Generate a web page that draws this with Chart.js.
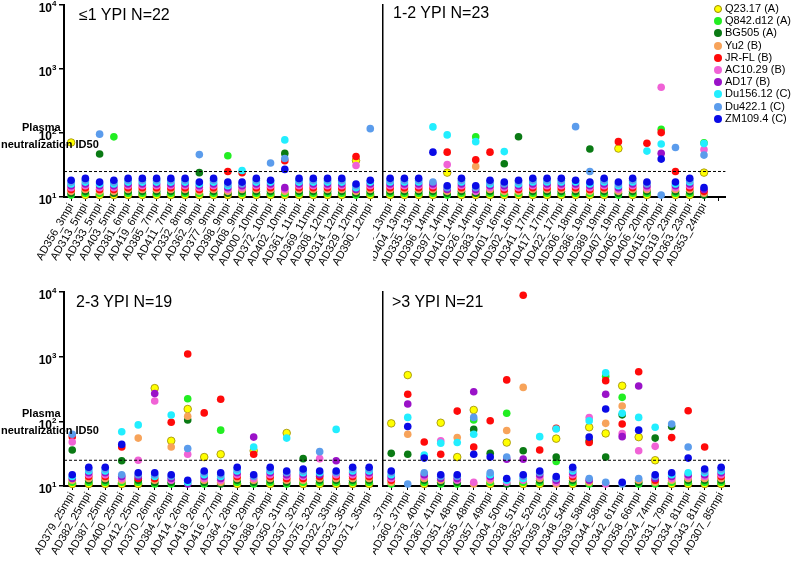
<!DOCTYPE html>
<html lang="en">
<head>
<meta charset="UTF-8">
<title>Plasma neutralization ID50 by years post infection</title>
<script src="https://cdn.jsdelivr.net/npm/chart.js"></script>
<style>
    body { margin: 0; background: #fff; font-family: Arial, 'Liberation Sans', sans-serif; }
    #wrap { position: relative; width: 800px; height: 563px; overflow: hidden; }
    canvas { position: absolute; }
    .ptitle { position: absolute; font-size: 16px; line-height: 18px; color: #000; white-space: nowrap; }
    .ylab { position: absolute; font-weight: bold; font-size: 11px; line-height: 14px; color: #000; white-space: nowrap; }
    #legend { position: absolute; left: 714px; top: 2px; font-size: 11px; color: #000; }
    .item { height: 12.2px; line-height: 12px; white-space: nowrap; }
    .dot { display: inline-block; width: 8px; height: 8px; border-radius: 50%; margin-right: 3px; vertical-align: -1px; box-sizing: border-box; }
</style>
</head>
<body>
<div id="wrap">
    <canvas id="c1"></canvas>
    <canvas id="c2"></canvas>
    <canvas id="c3"></canvas>
    <canvas id="c4"></canvas>
    <div class="ptitle" style="left:79px; top:6px;">≤1 YPI N=22</div>
    <div class="ptitle" style="left:393px; top:4px;">1-2 YPI N=23</div>
    <div class="ptitle" style="left:76px; top:293px;">2-3 YPI N=19</div>
    <div class="ptitle" style="left:392px; top:293px;">&gt;3 YPI N=21</div>
    <div class="ylab" style="left:22px; top:120px;">Plasma</div>
    <div class="ylab" style="left:1px; top:137px;">neutralization ID50</div>
    <div class="ylab" style="left:22px; top:406px;">Plasma</div>
    <div class="ylab" style="left:1px; top:423px;">neutralization ID50</div>
    <div id="legend"></div>
</div>
<script>
    // sample labels per panel
    const labelsLE1 = ['AD356_3mpi','AD313_5mpi','AD333_5mpi','AD403_5mpi','AD381_6mpi','AD419_6mpi','AD385_7mpi','AD411_7mpi','AD332_8mpi','AD362_9mpi','AD377_9mpi','AD398_9mpi','AD408_9mpi','AD000_10mpi','AD372_10mpi','AD402_10mpi','AD361_11mpi','AD369_11mpi','AD308_12mpi','AD314_12mpi','AD329_12mpi','AD390_12mpi'];
    const labels1to2 = ['AD310_13mpi','AD404_13mpi','AD335_13mpi','AD396_14mpi','AD397_14mpi','AD410_14mpi','AD326_14mpi','AD383_16mpi','AD401_16mpi','AD302_16mpi','AD341_17mpi','AD417_17mpi','AD422_17mpi','AD306_18mpi','AD386_19mpi','AD389_19mpi','AD407_19mpi','AD405_20mpi','AD406_20mpi','AD415_20mpi','AD319_23mpi','AD363_23mpi','AD353_24mpi'];
    const labels2to3 = ['AD379_25mpi','AD382_25mpi','AD387_25mpi','AD400_25mpi','AD412_25mpi','AD370_26mpi','AD384_26mpi','AD414_26mpi','AD418_26mpi','AD416_27mpi','AD364_28mpi','AD316_29mpi','AD388_29mpi','AD350_31mpi','AD337_32mpi','AD375_32mpi','AD322_33mpi','AD323_35mpi','AD371_35mpi'];
    const labelsGT3 = ['AD309_37mpi','AD360_37mpi','AD378_40mpi','AD367_41mpi','AD351_48mpi','AD355_48mpi','AD357_49mpi','AD304_50mpi','AD328_51mpi','AD352_52mpi','AD359_52mpi','AD348_54mpi','AD339_58mpi','AD344_58mpi','AD342_61mpi','AD358_66mpi','AD324_74mpi','AD331_79mpi','AD334_81mpi','AD343_81mpi','AD307_85mpi'];

    const strains = ['Q23.17 (A)','Q842.d12 (A)','BG505 (A)','Yu2 (B)','JR-FL (B)','AC10.29 (B)','AD17 (B)','Du156.12 (C)','Du422.1 (C)','ZM109.4 (C)'];
    const colors = ['#ffff00','#22ee22','#0a7a14','#f7a35a','#ff0a0a','#f062d6','#9a12c8','#22eeff','#5b9cec','#0a0ae6'];

    // ID50 per strain, samples in panel order (≤1, 1-2, 2-3, >3 YPI)
    // 0 = below the 1:25 cutoff, null = not tested
    const q23 = [
        71,0,0,0,0,0,0,0,0,0,0,0,0,0,0,0,0,0,0,0,37,0,
        0,0,0,0,24,0,0,0,0,0,0,0,0,0,0,0,57,0,0,null,0,0,24,
        0,0,0,0,0,326,50,155,28,31,0,35,0,66,0,0,0,0,0,
        93,519,0,95,28,150,0,47,0,0,54,0,81,65,355,57,25,0,0,0,0];
    const q842 = [
        0,0,0,87,0,0,0,0,0,0,0,44,0,0,0,0,0,0,0,0,0,0,
        0,0,0,0,0,0,87,0,0,0,0,0,0,0,0,0,0,0,0,114,0,0,70,
        0,0,0,0,0,0,0,224,0,73,0,0,0,0,0,0,0,0,0,
        0,null,0,0,0,105,0,133,0,0,24,0,0,500,235,0,0,0,0,0,0];
    const bg505 = [
        0,0,47,0,0,0,0,0,0,24,0,0,0,0,0,48,0,0,0,0,0,0,
        0,0,0,0,0,0,0,0,33,87,0,0,0,0,56,0,0,0,0,null,0,0,0,
        36,0,0,24.6,0,0,0,105,0,0,0,0,0,0,26.5,0,0,0,0,
        32,31,0,0,0,75,32,0,35,0,28,0,50,28,126,0,55,83,0,0,0];
    const yu2 = [
        0,0,0,0,0,0,0,0,0,0,0,0,0,0,0,0,0,0,0,0,0,0,
        0,0,0,0,0,0,30,0,0,0,0,0,0,0,0,0,0,0,0,null,0,0,0,
        0,0,0,0,55,0,40,120,0,0,0,0,0,0,0,0,0,0,0,
        0,63,0,0,56,0,0,72,335,0,0,0,0,93,173,0,0,0,0,0,0];
    const jrfl = [
        0,0,0,0,0,0,0,0,0,0,0,25,24,0,0,37,0,0,0,0,43,0,
        0,0,0,0,50,0,38,50,0,0,0,0,0,0,0,0,73,0,69,101,25,0,0,
        58,0,0,40,0,0,97,1100,135,219,0,31,0,0,0,0,0,0,0,
        0,262,48,31,144,40,102,437,8900,36,78,0,47,426,91,586,0,56,146,40,0];
    const ac10 = [
        0,0,0,0,0,0,0,0,0,0,0,0,0,0,0,0,0,0,0,0,31,0,
        0,0,0,0,32,0,0,0,0,0,0,0,0,0,0,0,0,0,0,515,0,0,55,
        48,0,0,0,25,206,0,31,0,0,0,0,0,0,0,26.5,0,0,0,
        0,null,0,50,0,0,0,0,0,0,0,0,114,0,65,35,41,0,0,0,0];
    const ad17 = [
        0,0,0,0,0,0,0,0,0,0,0,0,0,0,0,0,0,0,0,0,0,0,
        0,0,0,0,0,0,0,0,0,0,0,0,0,0,0,0,0,0,0,48,0,0,0,
        0,0,0,0,0,270,0,0,0,0,0,57,0,0,0,0,24.6,0,0,
        0,185,0,0,0,287,0,26,26,0,0,0,0,263,58,351,0,0,0,0,0];
    const du156 = [
        0,0,0,0,0,0,0,0,0,0,0,0,26,0,0,78,0,0,0,0,0,0,
        0,0,0,124,93,0,73,0,51,0,0,0,0,0,0,0,0,0,52,67,0,0,68,
        0,0,0,69,88,0,125,0,0,0,0,40,0,55,0,0,75,0,0,
        0,115,30,46,47,63,0,0,0,58,76,0,102,563,133,115,81,0,0,0,0];
    const du422 = [
        0,0,96,0,0,0,0,0,0,46,0,0,0,0,34,40,0,0,0,0,0,117,
        0,0,0,0,0,0,0,0,0,0,0,0,0,125,25,0,0,0,0,0,59,0,45,
        63,0,0,0,0,0,0,38,0,0,0,0,0,0,0,34,0,0,0,
        0,0,0,0,0,115,0,28,0,0,0,0,0,0,0,0,0,91,40,0,0];
    const zm109 = [
        0,0,0,0,0,0,0,0,0,0,0,0,0,0,0,27,0,0,0,0,0,0,
        0,0,0,50,0,0,0,0,0,0,0,0,0,0,0,0,0,0,0,39,0,0,0,
        0,0,0,44,0,0,0,0,0,0,0,0,0,0,0,0,0,0,0,
        0,83,27,0,0,31,28,0,0,0,0,0,57,155,0,73,0,0,27,0,0];

    const seriesValues = [q23, q842, bg505, yu2, jrfl, ac10, ad17, du156, du422, zm109];
    const cutoff = 25;
    const yTicks = [10, 100, 1000, 10000];

    // legend
    const legend = document.getElementById('legend');
    strains.forEach((s, i) => {
        const item = document.createElement('div');
        item.className = 'item';
        const border = i === 0 ? '1px solid #9a8a00' : 'none';
        item.innerHTML = '<span class="dot" style="background:' + colors[i] + ';border:' + border + '"></span>' + s;
        legend.appendChild(item);
    });

    // undetectable samples are stacked just above the axis, one slot per strain
    function panelData(start, n) {
        const out = seriesValues.map(() => []);
        for (let c = 0; c < n; c++) {
            let k = 0;
            seriesValues.forEach((arr, s) => {
                const v = arr[start + c];
                if (v === 0) {
                    out[s].push(Math.pow(10, 1.03 + 0.029 * k));
                    k++;
                } else {
                    out[s].push(v);
                }
            });
        }
        return out;
    }

    const refLine = {
        id: 'refLine',
        afterDatasetsDraw(chart) {
            const { ctx, chartArea, scales } = chart;
            const y = scales.y.getPixelForValue(cutoff);
            ctx.save();
            ctx.strokeStyle = '#000';
            ctx.lineWidth = 1;
            ctx.setLineDash([3, 2]);
            ctx.beginPath();
            ctx.moveTo(chartArea.left, y);
            ctx.lineTo(chartArea.right, y);
            ctx.stroke();
            ctx.restore();
        }
    };

    const powLabels = {
        id: 'powLabels',
        afterDraw(chart, args, opts) {
            if (!opts.show) return;
            const { ctx, scales } = chart;
            ctx.save();
            ctx.fillStyle = '#000';
            ctx.textBaseline = 'middle';
            yTicks.forEach(v => {
                const py = scales.y.getPixelForValue(v);
                ctx.font = 'bold 12px Arial';
                ctx.textAlign = 'right';
                ctx.fillText('10', 52, py + 4);
                ctx.font = 'bold 8px Arial';
                ctx.textAlign = 'left';
                ctx.fillText(String(Math.round(Math.log10(v))), 52, py - 1);
            });
            ctx.restore();
        }
    };

    function makePanel(id, left, top, width, height, labels, start, n, opt) {
        const cv = document.getElementById(id);
        cv.width = width;
        cv.height = height;
        cv.style.left = left + 'px';
        cv.style.top = top + 'px';

        const data = panelData(start, n);
        const allLabels = labels.slice();
        if (opt.extra) allLabels.push('');

        const datasets = strains.map((s, i) => ({
            label: s,
            data: data[i],
            showLine: false,
            pointRadius: 3.8,
            pointHoverRadius: 3.8,
            pointBackgroundColor: colors[i],
            pointBorderColor: i === 0 ? '#9a8a00' : colors[i],
            pointBorderWidth: i === 0 ? 0.8 : 0,
            clip: false,
            order: 9 - i
        }));

        new Chart(cv, {
            type: 'line',
            data: { labels: allLabels, datasets: datasets },
            options: {
                responsive: false,
                animation: false,
                events: [],
                layout: { padding: { top: opt.padTop, right: 0, left: 0, bottom: 0 } },
                plugins: { legend: { display: false }, tooltip: { enabled: false }, powLabels: { show: opt.leftAxis } },
                scales: {
                    x: {
                        type: 'category',
                        offset: true,
                        grid: { drawOnChartArea: false, drawTicks: true, tickLength: 4, color: '#000', offset: false, lineWidth: 1 },
                        border: { display: true, color: '#000', width: 2 },
                        ticks: { color: '#000', font: { size: 11, family: 'Arial' }, minRotation: 60, maxRotation: 60, autoSkip: false, padding: 0 },
                        afterFit(scale) {
                            scale.height = opt.xHeight;
                            scale.paddingLeft = 0;
                            scale.paddingRight = 0;
                        }
                    },
                    y: {
                        type: 'logarithmic',
                        min: 10,
                        max: 10000,
                        grid: { drawOnChartArea: false, drawTicks: opt.leftAxis, tickLength: 5, color: '#000', lineWidth: 1.5 },
                        border: { display: true, color: '#000', width: opt.leftAxis ? 2 : 1.5 },
                        ticks: { display: false },
                        afterBuildTicks(scale) {
                            scale.ticks = yTicks.map(v => ({ value: v }));
                        },
                        afterFit(scale) {
                            scale.width = opt.yWidth;
                            scale.paddingTop = 0;
                            scale.paddingBottom = 0;
                        }
                    }
                }
            },
            plugins: [refLine, powLabels]
        });
    }

    makePanel('c1', 0, 0, 382, 268, labelsLE1, 0, 22, { leftAxis: true, yWidth: 64, padTop: 5, xHeight: 71 });
    makePanel('c2', 373, 0, 357, 268, labels1to2, 22, 23, { leftAxis: false, yWidth: 10, padTop: 0, xHeight: 71, extra: true });
    makePanel('c3', 0, 280, 382, 283, labels2to3, 45, 19, { leftAxis: true, yWidth: 64, padTop: 12, xHeight: 77 });
    makePanel('c4', 373, 280, 361, 283, labelsGT3, 64, 21, { leftAxis: false, yWidth: 10, padTop: 12, xHeight: 77 });
</script>
</body>
</html>
